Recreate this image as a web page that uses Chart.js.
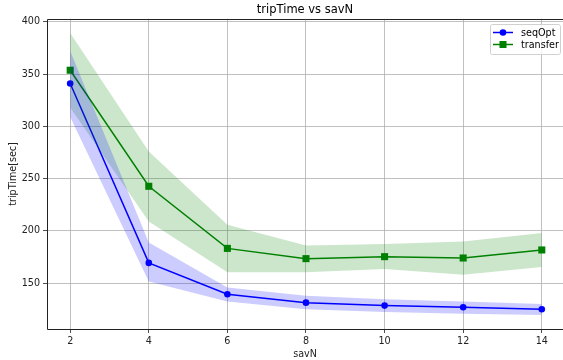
<!DOCTYPE html>
<html>
<head>
<meta charset="utf-8">
<script src="https://cdn.jsdelivr.net/npm/chart.js@4"></script>
<style>
  html, body { margin: 0; padding: 0; background: #fff; }
  #c { display: block; }
</style>
</head>
<body>
<canvas id="c" width="563" height="360"></canvas>
<script>
// savN 取值
const savN = [2, 4, 6, 8, 10, 12, 14];
// seqOpt 平均值及上下界
const seqOptMean = [341, 169.4, 139.5, 131.4, 128.6, 127.0, 125.1];
const seqOptHigh = [372, 189, 145.8, 138.1, 134.6, 132.4, 130.2];
const seqOptLow  = [309, 151.6, 132.4, 125.1, 122.4, 120.8, 119.7];
// transfer 平均值及上下界
const transferMean = [353.7, 242.7, 183.3, 173.5, 175.4, 174.1, 181.8];
const transferHigh = [389.2, 276, 206, 186, 187.5, 190, 198];
const transferLow  = [318, 209, 160.4, 160.4, 163.6, 158, 165.5];
// y 軸刻度
const yTicks = [150, 200, 250, 300, 350, 400];
const xTicks = [2, 4, 6, 8, 10, 12, 14];

const pts = arr => savN.map((x, i) => ({ x: x, y: arr[i] }));
const FONT = 'DejaVu Sans';
const TICK_SIZE = 9.6;

function band(data, color) {
    return { data: pts(data), borderWidth: 0, pointRadius: 0, backgroundColor: color, fill: false };
}

const frameAndLegend = {
    id: 'frameAndLegend',
    afterDraw(chart) {
        const { ctx, chartArea: a } = chart;
        ctx.save();
        // 外框（右邊在畫布外）
        ctx.strokeStyle = '#222';
        ctx.lineWidth = 1;
        ctx.beginPath();
        ctx.moveTo(chart.width, a.top + 0.5);
        ctx.lineTo(a.left + 0.5, a.top + 0.5);
        ctx.lineTo(a.left + 0.5, a.bottom + 0.5);
        ctx.lineTo(chart.width, a.bottom + 0.5);
        ctx.stroke();
        // 標題
        ctx.fillStyle = '#000';
        ctx.font = '11.5px "' + FONT + '"';
        ctx.textAlign = 'center';
        ctx.textBaseline = 'middle';
        ctx.fillText('tripTime vs savN', 305, 10);
        // 圖例
        const bx = 490.5, by = 24, bw = 70, bh = 30;
        ctx.fillStyle = 'rgba(255,255,255,0.8)';
        ctx.strokeStyle = '#d0d0d0';
        ctx.beginPath();
        ctx.roundRect(bx, by + 0.5, bw, bh, 2);
        ctx.fill();
        ctx.stroke();
        const items = [
            { label: 'seqOpt', color: '#0000ff', style: 'circle', y: 32.5 },
            { label: 'transfer', color: '#008000', style: 'rect', y: 44.5 }
        ];
        ctx.font = TICK_SIZE + 'px "' + FONT + '"';
        ctx.textAlign = 'left';
        items.forEach(it => {
            ctx.strokeStyle = it.color;
            ctx.fillStyle = it.color;
            ctx.lineWidth = 1.5;
            ctx.beginPath();
            ctx.moveTo(493, it.y);
            ctx.lineTo(513, it.y);
            ctx.stroke();
            if (it.style === 'circle') {
                ctx.beginPath();
                ctx.arc(503, it.y, 3.3, 0, Math.PI * 2);
                ctx.fill();
            } else {
                ctx.fillRect(499.5, it.y - 3.5, 7, 7);
            }
            ctx.fillStyle = '#000';
            ctx.fillText(it.label, 521, it.y + 0.5);
        });
        ctx.restore();
    }
};

new Chart(document.getElementById('c'), {
    type: 'line',
    data: {
        datasets: [
            Object.assign(band(seqOptHigh, 'rgba(0,0,255,0.2)'), { fill: '+1' }),
            band(seqOptLow, 'rgba(0,0,255,0.2)'),
            Object.assign(band(transferHigh, 'rgba(0,128,0,0.2)'), { fill: '+1' }),
            band(transferLow, 'rgba(0,128,0,0.2)'),
            {
                label: 'seqOpt',
                data: pts(seqOptMean),
                borderColor: '#0000ff',
                backgroundColor: '#0000ff',
                borderWidth: 1.5,
                pointRadius: 3.3,
                pointStyle: 'circle',
                pointBorderWidth: 0,
                fill: false
            },
            {
                label: 'transfer',
                data: pts(transferMean),
                borderColor: '#008000',
                backgroundColor: '#008000',
                borderWidth: 1.5,
                pointRadius: 5,
                pointStyle: 'rect',
                pointBorderWidth: 0,
                fill: false
            }
        ]
    },
    options: {
        responsive: false,
        animation: false,
        layout: { autoPadding: false, padding: { top: 19, right: 0, left: 0, bottom: 0 } },
        plugins: {
            legend: { display: false },
            tooltip: { enabled: false }
        },
        scales: {
            x: {
                type: 'linear',
                min: 1.41,
                max: 14.54,
                afterBuildTicks: s => { s.ticks = xTicks.map(v => ({ value: v })); },
                afterFit: s => { s.height = 31; s.paddingLeft = 0; s.paddingRight = 0; },
                grid: { color: '#b0b0b0', tickColor: '#222', tickLength: 4, lineWidth: 0.8 },
                border: { display: false },
                ticks: { color: '#222', font: { family: FONT, size: TICK_SIZE }, padding: 3, maxRotation: 0 },
                title: { display: true, text: 'savN', color: '#222', font: { family: FONT, size: TICK_SIZE }, padding: { top: 1, bottom: 0 } }
            },
            y: {
                min: 106.2,
                max: 402.7,
                afterBuildTicks: s => { s.ticks = yTicks.map(v => ({ value: v })); },
                afterFit: s => { s.width = 47; },
                grid: { color: '#b0b0b0', tickColor: '#222', tickLength: 4, lineWidth: 0.8 },
                border: { display: false },
                ticks: { color: '#222', font: { family: FONT, size: TICK_SIZE }, padding: 3 },
                title: { display: true, text: 'tripTime[sec]', color: '#222', font: { family: FONT, size: TICK_SIZE }, padding: { top: 8, bottom: 2 } }
            }
        }
    },
    plugins: [frameAndLegend]
});
</script>
</body>
</html>
